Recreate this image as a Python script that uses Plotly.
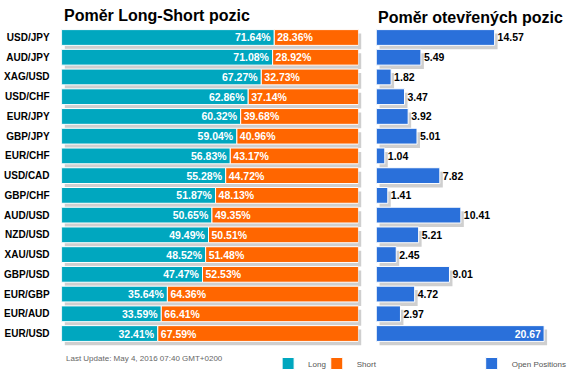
import plotly.graph_objects as go

pairs = ["USD/JPY", "AUD/JPY", "XAG/USD", "USD/CHF", "EUR/JPY", "GBP/JPY", "EUR/CHF", "USD/CAD",
         "GBP/CHF", "AUD/USD", "NZD/USD", "XAU/USD", "GBP/USD", "EUR/GBP", "EUR/AUD", "EUR/USD"]
long_pct = [71.64, 71.08, 67.27, 62.86, 60.32, 59.04, 56.83, 55.28,
            51.87, 50.65, 49.49, 48.52, 47.47, 35.64, 33.59, 32.41]
short_pct = [28.36, 28.92, 32.73, 37.14, 39.68, 40.96, 43.17, 44.72,
             48.13, 49.35, 50.51, 51.48, 52.53, 64.36, 66.41, 67.59]
open_pos = [14.57, 5.49, 1.82, 3.47, 3.92, 5.01, 1.04, 7.82,
            1.41, 10.41, 5.21, 2.45, 9.01, 4.72, 2.97, 20.67]
title_left = "Poměr Long-Short pozic"
title_right = "Poměr otevřených pozic"
update_text = "Last Update: May 4, 2016 07:40 GMT+0200"

W, H = 572, 378
TEAL, ORANGE, BLUE, SHADOW = "#00a7bf", "#ff6600", "#2a70da", "#cfcfcf"
FONT = "Liberation Sans, Arial, sans-serif"

# pixel layout
lx0, lx1 = 62, 361
rx0, rx1 = 379, 567
ytop, ybot = 28, 348
sdx, sdy = 3, 4
RMAX = 23

def fx(p):
    return p / W

def fy(p):
    return 1 - p / H

n = len(pairs)
yrange = [n - 0.5, -0.5]

fig = go.Figure()

# shadows (drawn first, beneath)
fig.add_trace(go.Bar(y=pairs, x=[a + b for a, b in zip(long_pct, short_pct)], orientation="h",
                     marker=dict(color=SHADOW, line=dict(width=0)), xaxis="x", yaxis="y",
                     showlegend=False, hoverinfo="skip"))
fig.add_trace(go.Bar(y=pairs, x=open_pos, orientation="h",
                     marker=dict(color=SHADOW, line=dict(width=0)), xaxis="x2", yaxis="y2",
                     showlegend=False, hoverinfo="skip"))

# main bars
fig.add_trace(go.Bar(name="Long", y=pairs, x=long_pct, orientation="h", xaxis="x3", yaxis="y3",
                     marker=dict(color=TEAL, line=dict(color="white", width=1)),
                     text=[f"{v:.2f}%" for v in long_pct], textposition="inside",
                     insidetextanchor="end", textangle=0, constraintext="none",
                     insidetextfont=dict(color="white", size=10.5, family=FONT, weight="bold"),
                     legend="legend"))
fig.add_trace(go.Bar(name="Short", y=pairs, x=short_pct, base=long_pct, orientation="h", xaxis="x3", yaxis="y3",
                     marker=dict(color=ORANGE, line=dict(color="white", width=1)),
                     text=[f"{v:.2f}%" for v in short_pct], textposition="inside",
                     insidetextanchor="start", textangle=0, constraintext="none",
                     insidetextfont=dict(color="white", size=10.5, family=FONT, weight="bold"),
                     legend="legend3"))
vmax = max(open_pos)
fig.add_trace(go.Bar(name="Open Positions", y=pairs, x=open_pos, orientation="h", xaxis="x4", yaxis="y4",
                     marker=dict(color=BLUE, line=dict(color="white", width=1)),
                     text=[f"{v:.2f}" for v in open_pos],
                     textposition=["inside" if v == vmax else "outside" for v in open_pos],
                     insidetextanchor="end", textangle=0, constraintext="none", cliponaxis=False,
                     insidetextfont=dict(color="white", size=10.5, family=FONT, weight="bold"),
                     outsidetextfont=dict(color="black", size=10.5, family=FONT, weight="bold"),
                     legend="legend2"))

hidden = dict(visible=False, showgrid=False, zeroline=False, fixedrange=True)
leg = dict(orientation="h", xanchor="left", yanchor="top", y=fy(354),
           bgcolor="rgba(0,0,0,0)", font=dict(family=FONT, size=8, color="#555"), itemwidth=30)
fig.update_layout(
    width=W, height=H, margin=dict(l=0, r=0, t=0, b=0), autosize=False,
    paper_bgcolor="white", plot_bgcolor="rgba(0,0,0,0)",
    barmode="overlay", bargap=0.2,
    font=dict(family=FONT, color="#000"),
    xaxis=dict(hidden, domain=[fx(lx0 + sdx), fx(lx1 + sdx)], range=[0, 100], anchor="y"),
    yaxis=dict(hidden, domain=[fy(ybot + sdy), fy(ytop + sdy)], type="category",
               categoryorder="array", categoryarray=pairs, range=yrange, anchor="x"),
    xaxis2=dict(hidden, domain=[fx(rx0 + sdx), fx(rx1 + sdx)], range=[0, RMAX], anchor="y2"),
    yaxis2=dict(hidden, domain=[fy(ybot + sdy), fy(ytop + sdy)], type="category",
                categoryorder="array", categoryarray=pairs, range=yrange, anchor="x2"),
    xaxis3=dict(hidden, domain=[fx(lx0), fx(lx1)], range=[0, 100], anchor="y3"),
    yaxis3=dict(domain=[fy(ybot), fy(ytop)], type="category", categoryorder="array",
                categoryarray=pairs, range=yrange, anchor="x3", showgrid=False, zeroline=False,
                showline=False, ticks="outside", ticklen=9, tickcolor="rgba(0,0,0,0)",
                tickfont=dict(family=FONT, size=10, color="#000", weight="bold"), fixedrange=True),
    xaxis4=dict(hidden, domain=[fx(rx0), fx(rx1)], range=[0, RMAX], anchor="y4"),
    yaxis4=dict(domain=[fy(ybot), fy(ytop)], type="category", categoryorder="array",
                categoryarray=pairs, range=yrange, anchor="x4", showgrid=False, zeroline=False,
                showline=False, showticklabels=False, fixedrange=True),
    legend=dict(leg, x=fx(270)),
    legend3=dict(leg, x=fx(319)),
    legend2=dict(leg, x=fx(475)),
    annotations=[
        dict(text=f"<b>{title_left}</b>", xref="paper", yref="paper", x=fx(lx0), y=fy(16),
             xanchor="left", yanchor="middle", showarrow=False,
             font=dict(family=FONT, size=16, color="#000")),
        dict(text=f"<b>{title_right}</b>", xref="paper", yref="paper", x=fx(rx0), y=fy(18),
             xanchor="left", yanchor="middle", showarrow=False,
             font=dict(family=FONT, size=16, color="#000")),
        dict(text=update_text, xref="paper", yref="paper", x=fx(64), y=fy(363),
             xanchor="left", yanchor="middle", showarrow=False,
             font=dict(family=FONT, size=8, color="#666")),
    ],
)

fig.write_html("out.html", config={"responsive": False, "displayModeBar": False},
               post_script="document.body.style.margin='0';document.documentElement.style.overflow='hidden';document.body.style.overflow='hidden';")
